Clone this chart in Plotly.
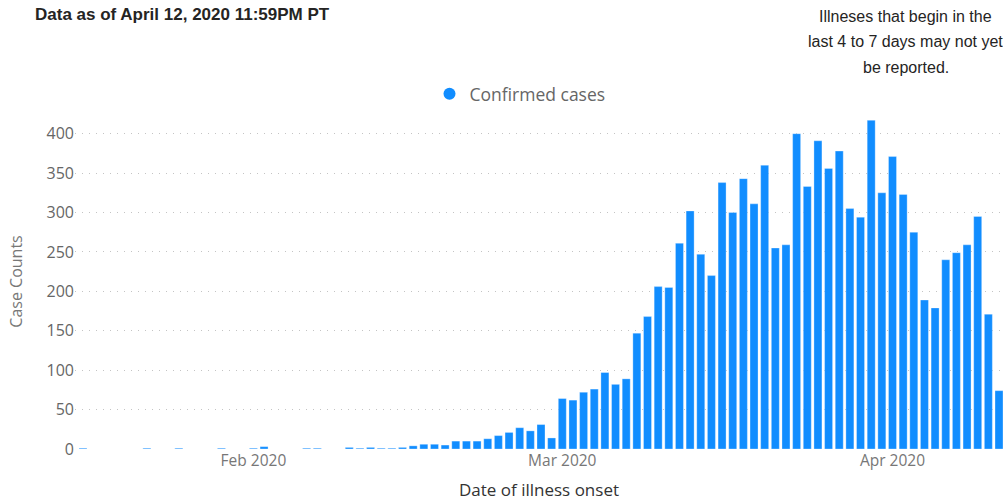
import plotly.graph_objects as go
import pandas as pd

# ---- data ----
onset_dates = (
    ["2020-01-16", "2020-01-22", "2020-01-25", "2020-01-29", "2020-02-01", "2020-02-02",
     "2020-02-06", "2020-02-07"]
    + [d.strftime("%Y-%m-%d") for d in pd.date_range("2020-02-10", "2020-04-11")]
)
case_counts = [
    1, 1, 1, 1, 1, 3, 1, 1,
    # Feb 10 - Feb 29
    2, 1, 2, 1, 1, 2, 4, 6, 6, 5, 10, 10, 10, 13, 17, 21, 27, 23, 31, 14,
    # Mar 1 - Mar 31
    64, 62, 72, 76, 97, 82, 89, 147, 168, 206, 205, 261, 302, 247, 220, 338,
    300, 343, 311, 360, 255, 259, 400, 333, 391, 356, 378, 305, 294, 417, 325,
    # Apr 1 - Apr 11
    371, 323, 275, 189, 179, 240, 249, 259, 295, 171, 74,
]
tick_dates = ["2020-02-01", "2020-03-01", "2020-04-01"]
tick_labels = ["Feb 2020", "Mar 2020", "Apr 2020"]
y_ticks = [0, 50, 100, 150, 200, 250, 300, 350, 400]
note_lines = ["Illneses that begin in the", "last 4 to 7 days may not yet", "be reported."]

BLUE = "#118DFF"
NOTE_FONT = dict(family="Liberation Sans Narrow, Arial Narrow, sans-serif",
                 size=16, color="#252423")

fig = go.Figure()
fig.add_trace(go.Bar(
    x=onset_dates, y=case_counts, name="Confirmed cases",
    marker=dict(color=BLUE, line=dict(color="rgba(255,255,255,0.5)", width=0.6)),
    width=0.75 * 86400000, showlegend=False,
))
# legend entry with a round dot
fig.add_trace(go.Scatter(
    x=[None], y=[None], mode="markers", name="Confirmed cases",
    marker=dict(color=BLUE, size=10, symbol="circle"), showlegend=True,
))

annotations = [
    dict(text="Data as of April 12, 2020 11:59PM PT", xref="paper", yref="paper",
         x=-0.045, y=1.2985, xanchor="left", yanchor="middle", showarrow=False,
         font=dict(family="Liberation Sans Narrow, Arial Narrow, sans-serif",
                   size=17, color="#252423", weight="bold")),
]
for i, line in enumerate(note_lines):
    annotations.append(dict(
        text=line, xref="paper", yref="paper", x=0.895, y=(449 - (16 + 25.5 * i)) / 335,
        xanchor="center", yanchor="middle", align="center", showarrow=False,
        font=NOTE_FONT))

fig.update_layout(
    width=1003, height=501,
    margin=dict(l=75, r=0, t=114, b=52, autoexpand=False),
    paper_bgcolor="white", plot_bgcolor="white",
    font=dict(family="Open Sans, Segoe UI, sans-serif", color="#666666"),
    bargap=0.25,
    legend=dict(orientation="h", x=0.382, xanchor="left", y=1.06, yanchor="middle",
                font=dict(size=17.5, color="#666666"), itemsizing="constant",
                tracegroupgap=0, bgcolor="rgba(0,0,0,0)"),
    xaxis=dict(
        range=["2020-01-15 06:00", "2020-04-11 09:00"], automargin=False,
        tickmode="array", tickvals=tick_dates, ticktext=tick_labels,
        tickfont=dict(size=15.5, color="#777777"),
        showgrid=False, zeroline=False, showline=False, ticks="",
        title=dict(text="Date of illness onset", font=dict(size=17, color="#333333"),
                   standoff=16),
    ),
    yaxis=dict(
        range=[0, 425], tickmode="array", tickvals=y_ticks, automargin=False,
        tickfont=dict(size=16, color="#666666"),
        showgrid=True, gridcolor="#c4c4c4", griddash="1px,6px", gridwidth=1,
        zeroline=False, showline=False, ticks="",
        title=dict(text="Case Counts", font=dict(size=16, color="#777777"), standoff=19),
    ),
    annotations=annotations,
)

fig.write_html("out.html", config={"displayModeBar": False},
               post_script="document.body.style.margin='0';")
